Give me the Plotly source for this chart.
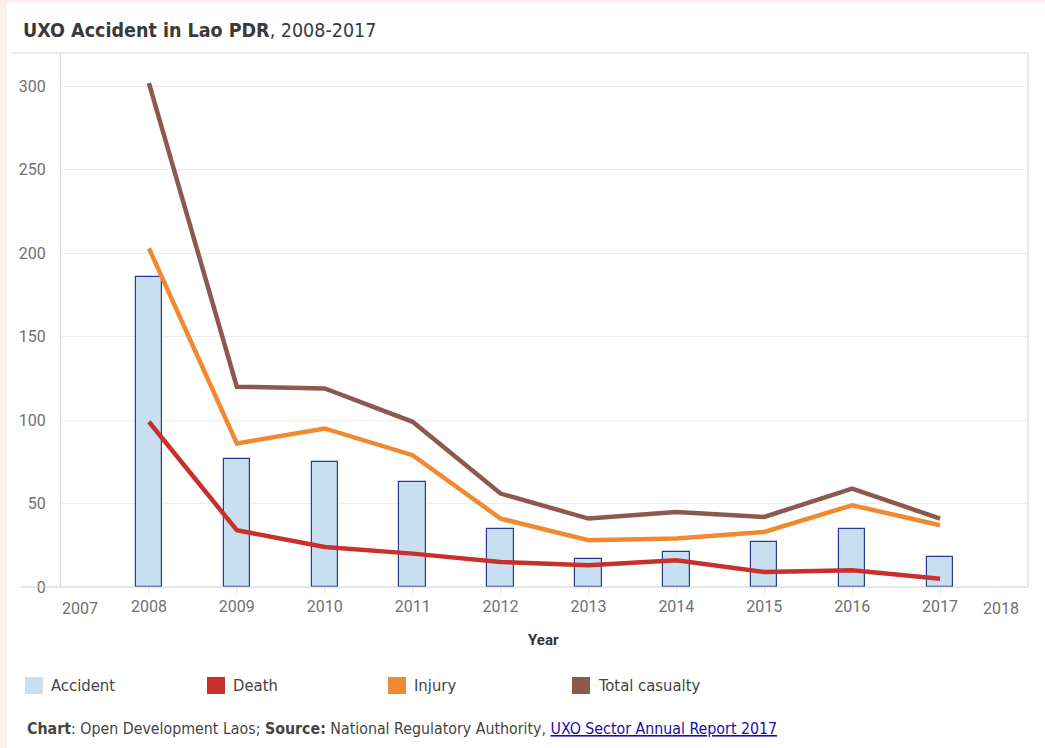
import plotly.graph_objects as go

years = [2008, 2009, 2010, 2011, 2012, 2013, 2014, 2015, 2016, 2017]
accident = [186, 77, 75, 63, 35, 17, 21, 27, 35, 18]
death = [99, 34, 24, 20, 15, 13, 16, 9, 10, 5]
injury = [203, 86, 95, 79, 41, 28, 29, 33, 49, 37]
total = [302, 120, 119, 99, 56, 41, 45, 42, 59, 41]
y_ticks = [0, 50, 100, 150, 200, 250, 300]
legend_names = ["Accident", "Death", "Injury", "Total casualty"]

W, H = 1045, 748
L, R, T, B = 61, 1028, 53, 587
NARROW = "Liberation Sans Narrow, DejaVu Sans Condensed, Arial Narrow, sans-serif"
TICKF = "Roboto, Open Sans, sans-serif"

def px(x):
    return (x - L) / (R - L)

def py(y):
    return (B - y) / (B - T)

c_acc, c_acc_line = "#c7dff0", "#2b3990"
c_death, c_inj, c_tot = "#c9302c", "#f0892f", "#8b5a4c"

fig = go.Figure()
fig.add_trace(go.Bar(x=years, y=accident, width=0.3, name="Accident",
                     marker=dict(color=c_acc, line=dict(color=c_acc_line, width=1.2)),
                     showlegend=False))
for name, vals, col in [("Injury", injury, c_inj), ("Total casualty", total, c_tot), ("Death", death, c_death)]:
    fig.add_trace(go.Scatter(x=years, y=vals, mode="lines", name=name,
                             line=dict(color=col, width=4.5), showlegend=False))

shapes = [
    dict(type="rect", xref="paper", yref="paper", x0=px(7), x1=px(1045), y0=py(748), y1=py(3),
         fillcolor="white", line=dict(width=0), layer="below"),
    dict(type="line", xref="paper", yref="paper", x0=px(11), x1=px(R), y0=py(T), y1=py(T),
         line=dict(color="#d4d4d4", width=1)),
    dict(type="line", xref="paper", yref="paper", x0=px(R), x1=px(R), y0=py(T), y1=py(B),
         line=dict(color="#d4d4d4", width=1)),
    dict(type="line", xref="paper", yref="paper", x0=px(21), x1=px(R), y0=py(B), y1=py(B),
         line=dict(color="#cfcfcf", width=1)),
]

annotations = [
    dict(text="<b>UXO Accident in Lao PDR</b>, 2008-2017", xref="paper", yref="paper",
         x=px(21), y=py(31), xanchor="left", yanchor="middle", showarrow=False,
         font=dict(family=NARROW, size=19.5, color="#3a3a3a")),
    dict(text="2007", xref="paper", yref="paper", x=px(80), y=py(608), xanchor="center",
         yanchor="middle", showarrow=False, font=dict(family=TICKF, size=16, color="#707070")),
    dict(text="2018", xref="paper", yref="paper", x=px(1001), y=py(608), xanchor="center",
         yanchor="middle", showarrow=False, font=dict(family=TICKF, size=16, color="#707070")),
    dict(text="<b>Year</b>", xref="paper", yref="paper", x=px(543), y=py(640), xanchor="center",
         yanchor="middle", showarrow=False, font=dict(family=TICKF, size=15, color="#333")),
    dict(text="<b>Chart</b>: Open Development Laos; <b>Source:</b> National Regulatory Authority, "
              "<a href='#' style='color:#1a0dab'><u>UXO Sector Annual Report 2017</u></a>",
         xref="paper", yref="paper", x=px(25), y=py(728), xanchor="left", yanchor="middle",
         showarrow=False, font=dict(family=NARROW, size=15.8, color="#444")),
]

leg_cols = [c_acc, c_death, c_inj, c_tot]
leg_sq = [25, 207, 388, 572]
for name, col, sx in zip(legend_names, leg_cols, leg_sq):
    shapes.append(dict(type="rect", xref="paper", yref="paper", x0=px(sx), x1=px(sx + 18),
                       y0=py(694), y1=py(677), fillcolor=col, line=dict(width=0)))
    annotations.append(dict(text=name, xref="paper", yref="paper", x=px(sx + 24), y=py(685),
                            xanchor="left", yanchor="middle", showarrow=False,
                            font=dict(family=NARROW, size=16.5, color="#444")))

fig.update_layout(
    width=W, height=H,
    margin=dict(l=L, r=W - R, t=T, b=H - B, pad=0),
    paper_bgcolor="#fdefee", plot_bgcolor="white",
    shapes=shapes, annotations=annotations,
    bargap=0,
    xaxis=dict(range=[2007, 2018], tickvals=years, ticktext=[str(y) for y in years],
               tickfont=dict(family=TICKF, size=16, color="#707070"), ticks="outside",
               ticklen=5, tickcolor="#e0e0e0", showgrid=False, zeroline=False,
               showline=False),
    yaxis=dict(range=[0, 320], tickvals=y_ticks, tickfont=dict(family=TICKF, size=16, color="#707070"),
               showgrid=True, gridcolor="#eeeeee", gridwidth=1, zeroline=False,
               showline=True, linecolor="#d4d4d4", linewidth=1, ticks="", ticklabelstandoff=11),
)

fig.write_html("out.html", config={"displayModeBar": False},
               post_script="document.body.style.margin='0';")
